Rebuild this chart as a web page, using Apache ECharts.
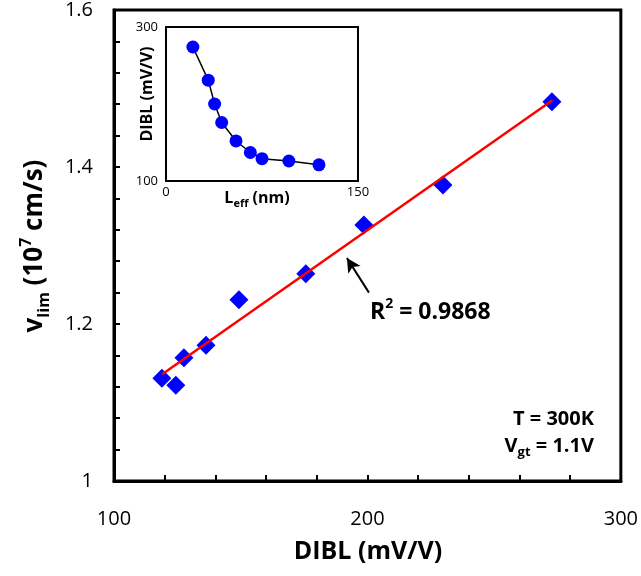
<!DOCTYPE html>
<html><head><meta charset="utf-8">
<script src="https://cdn.jsdelivr.net/npm/echarts@6/dist/echarts.min.js"></script>
<style>html,body{margin:0;padding:0;background:#fff}#c{width:641px;height:576px}</style>
</head><body><div id="c"></div>
<script>
// Main plot: DIBL (mV/V) vs v_lim (1e7 cm/s)
const mainDIBL = [118.9, 124.4, 127.6, 136.3, 149.3, 175.7, 198.6, 229.8, 272.8];
const mainVlim = [1.131, 1.122, 1.157, 1.173, 1.231, 1.264, 1.326, 1.377, 1.483];
// Linear fit endpoints
const fitX = [119, 273];
const fitY = [1.136, 1.485];
// Inset: L_eff (nm) vs DIBL (mV/V)
const insetLeff = [21, 33, 38, 43.5, 54.7, 65.9, 75, 96, 119.5];
const insetDIBL = [274, 231, 200, 176, 152, 137, 129, 126, 121];
// Arrow annotation (data coords): tail, head
const arrowTail = [200.6, 1.240];
const arrowHead = [191.9, 1.284];
const xMainTicks = [100, 200, 300];
const yMainTicks = ['1', '1.2', '1.4', '1.6'];

const FONT = '"Open Sans", sans-serif';
const chart = echarts.init(document.getElementById('c'), null, {renderer: 'canvas'});

function showMainY(v) {
  return Math.abs(v * 5 - Math.round(v * 5)) < 1e-6 ? String(+v.toFixed(1)) : '';
}
const option = {
  animation: false,
  backgroundColor: '#fff',
  grid: [
    {left: 114, right: 20, top: 8, bottom: 95, show: true, borderColor: '#000', borderWidth: 3, backgroundColor: 'transparent'},
    {left: 166, right: 283, top: 27, bottom: 395, show: true, borderColor: '#000', borderWidth: 2, backgroundColor: '#fff', z: 5}
  ],
  xAxis: [
    {gridIndex: 0, type: 'value', min: 100, max: 300, interval: 20,
      axisLine: {show: true, lineStyle: {color: '#000', width: 3}},
      axisTick: {show: true, inside: true, length: 6, lineStyle: {color: '#000', width: 2}},
      splitLine: {show: false},
      axisLabel: {margin: 28, fontSize: 20, color: '#000', fontFamily: FONT,
        formatter: v => xMainTicks.indexOf(v) >= 0 ? String(v) : ''}},
    {gridIndex: 1, type: 'value', min: 0, max: 150, interval: 30,
      axisLine: {show: true, lineStyle: {color: '#000', width: 2}},
      axisTick: {show: true, inside: true, length: 5, lineStyle: {color: '#000', width: 1.5}},
      splitLine: {show: false},
      axisLabel: {margin: 5, fontSize: 13, color: '#000', fontFamily: FONT,
        formatter: v => (v === 0 || v === 150) ? String(v) : ''}}
  ],
  yAxis: [
    {gridIndex: 0, type: 'value', min: 1, max: 1.6, interval: 0.04,
      axisLine: {show: true, lineStyle: {color: '#000', width: 3}},
      axisTick: {show: true, inside: true, length: 6, lineStyle: {color: '#000', width: 2}},
      splitLine: {show: false},
      axisLabel: {margin: 21, fontSize: 20, color: '#000', fontFamily: FONT,
        formatter: v => { const s = showMainY(v); return yMainTicks.indexOf(s) >= 0 ? s : ''; }}},
    {gridIndex: 1, type: 'value', min: 100, max: 300, interval: 40,
      axisLine: {show: true, lineStyle: {color: '#000', width: 2}},
      axisTick: {show: true, inside: true, length: 5, lineStyle: {color: '#000', width: 1.5}},
      splitLine: {show: false},
      axisLabel: {margin: 8, fontSize: 13, color: '#000', fontFamily: FONT,
        formatter: v => (v === 100 || v === 300) ? String(v) : ''}}
  ],
  series: [
    {type: 'line', xAxisIndex: 0, yAxisIndex: 0, data: fitX.map((x, i) => [x, fitY[i]]),
      symbol: 'none', lineStyle: {color: '#ff0000', width: 2.5}, z: 3,
      markLine: {silent: true, symbol: ['none', 'arrow'], symbolSize: [11, 14],
        label: {show: false},
        lineStyle: {color: '#000', width: 2, type: 'solid'},
        data: [[{coord: arrowTail}, {coord: arrowHead}]]}},
    {type: 'scatter', xAxisIndex: 0, yAxisIndex: 0, data: mainDIBL.map((x, i) => [x, mainVlim[i]]),
      symbol: 'diamond', symbolSize: 19, itemStyle: {color: '#0000ff', opacity: 1}, z: 2},
    {type: 'line', xAxisIndex: 1, yAxisIndex: 1, data: insetLeff.map((x, i) => [x, insetDIBL[i]]),
      symbol: 'circle', symbolSize: 13, z: 10,
      lineStyle: {color: '#000', width: 1.5}, itemStyle: {color: '#0000ff', borderWidth: 0, opacity: 1}}
  ],
  graphic: [
    {type: 'text', x: 368, y: 552, z: 20, style: {text: 'DIBL (mV/V)', font: 'bold 25px ' + FONT, fill: '#000', align: 'center', verticalAlign: 'middle'}},
    {type: 'text', x: 35, y: 246, rotation: Math.PI / 2, z: 20, style: {
      text: '{b|v}{sub|lim}{b| (10}{sup|7}{b| cm/s)}', align: 'center', verticalAlign: 'middle',
      rich: {
        b: {font: 'bold 26px ' + FONT, fill: '#000', lineHeight: 34},
        sub: {font: 'bold 16px ' + FONT, fill: '#000', lineHeight: 16, verticalAlign: 'bottom'},
        sup: {font: 'bold 16px ' + FONT, fill: '#000', lineHeight: 16, verticalAlign: 'top'}
      }}},
    {type: 'text', x: 147, y: 94, rotation: Math.PI / 2, z: 20, style: {text: 'DIBL (mV/V)', font: 'bold 16px ' + FONT, fill: '#000', align: 'center', verticalAlign: 'middle'}},
    {type: 'text', x: 257, y: 198, z: 20, style: {
      text: '{b|L}{sub|eff}{b| (nm)}', align: 'center', verticalAlign: 'middle',
      rich: {
        b: {font: 'bold 16px ' + FONT, fill: '#000', lineHeight: 22},
        sub: {font: 'bold 11px ' + FONT, fill: '#000', lineHeight: 11, verticalAlign: 'bottom'}
      }}},
    {type: 'text', x: 370, y: 312, z: 20, style: {
      text: '{b|R}{sup|2}{b| = 0.9868}', align: 'left', verticalAlign: 'middle',
      rich: {
        b: {font: 'bold 23px ' + FONT, fill: '#000', lineHeight: 30},
        sup: {font: 'bold 14px ' + FONT, fill: '#000', lineHeight: 14, verticalAlign: 'top'}
      }}},
    {type: 'text', x: 594, y: 419, z: 20, style: {text: 'T = 300K', font: 'bold 20px ' + FONT, fill: '#000', align: 'right', verticalAlign: 'middle'}},
    {type: 'text', x: 594, y: 446, z: 20, style: {
      text: '{b|V}{sub|gt}{b| = 1.1V}', align: 'right', verticalAlign: 'middle',
      rich: {
        b: {font: 'bold 20px ' + FONT, fill: '#000', lineHeight: 26},
        sub: {font: 'bold 13px ' + FONT, fill: '#000', lineHeight: 13, verticalAlign: 'bottom'}
      }}}
  ]
};
chart.setOption(option);
</script></body></html>
